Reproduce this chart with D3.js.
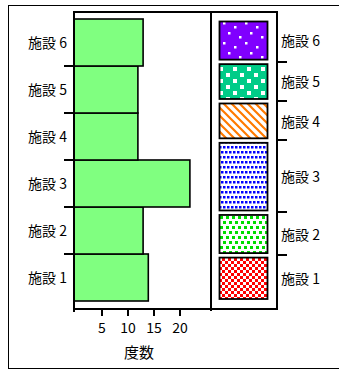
<!DOCTYPE html>
<html>
<head>
<meta charset="utf-8">
<script src="https://cdn.jsdelivr.net/npm/d3@7"></script>
<style>
  html, body { margin: 0; padding: 0; background: #fff; }
  svg { display: block; }
  text { font-family: "Liberation Sans Narrow", "Noto Sans CJK JP", sans-serif; font-size: 14px; fill: #000; }
</style>
</head>
<body>
<svg id="chart" width="339" height="371"></svg>
<script>
// Facility counts (bottom to top)
const categories = ["施設 1", "施設 2", "施設 3", "施設 4", "施設 5", "施設 6"];
const counts = [14, 13, 22, 12, 12, 13];
const xTicks = [5, 10, 15, 20];
const xTitle = "度数";

const svg = d3.select("#chart");

// Layout
const plot = { left: 74, top: 12, right: 211, bottom: 309 };
const legend = { left: 211, right: 277 };
const barTop = 19, barBottom = 301;

// Fill patterns for the facility key
const defs = svg.append("defs");
function pattern(id, w, h, bg, draw) {
  const p = defs.append("pattern").attr("id", id)
    .attr("patternUnits", "userSpaceOnUse").attr("width", w).attr("height", h);
  p.append("rect").attr("width", w).attr("height", h).attr("fill", bg);
  draw(p);
}
const sq = (p, x, y, s, c) => p.append("rect").attr("x", x).attr("y", y).attr("width", s).attr("height", s).attr("fill", c);

pattern("p1", 6, 6, "#fff", p => { sq(p, 0, 0, 3, "#ff0000"); sq(p, 3, 3, 3, "#ff0000"); });
pattern("p2", 6, 10, "#fff", p => { sq(p, 1, 1, 3, "#00dd00"); sq(p, 4, 6, 3, "#00dd00"); sq(p, -2, 6, 3, "#00dd00"); });
pattern("p3", 8, 10, "#fff", p => {
  sq(p, 1, 1, 2.5, "#0000ff"); sq(p, 5, 1, 2.5, "#0000ff"); sq(p, 3, 6, 2.5, "#0000ff"); sq(p, 7, 6, 2.5, "#0000ff"); sq(p, -1, 6, 2.5, "#0000ff");
});
pattern("p4", 8, 8, "#fff", p => {
  p.append("path").attr("d", "M-1,-1 L9,9 M-5,3 L1,9 M3,-5 L9,1")
    .attr("stroke", "#ff7a00").attr("stroke-width", 2.2);
});
pattern("p5", 14, 12, "#00cc88", p => { sq(p, 2, 1, 4, "#fff"); sq(p, 9, 7, 4, "#fff"); });
pattern("p6", 22, 20, "#8000ff", p => {
  sq(p, 3, 2, 2.5, "#fff"); sq(p, 14, 6, 2.5, "#fff"); sq(p, 8, 12, 2.5, "#fff"); sq(p, 19, 16, 2.5, "#fff");
});
const patIds = ["p1", "p2", "p3", "p4", "p5", "p6"];

// Scales
const x = d3.scaleLinear().domain([0, 26]).range([75.5, 210.7]);
const y = d3.scaleBand().domain(categories.slice().reverse()).range([barTop, barBottom]).paddingInner(0).paddingOuter(0);
const total = d3.sum(counts);
const yKey = d3.scaleLinear().domain([0, total]).range([barBottom, barTop]);
const cum = d3.cumsum(counts);
const segs = categories.map((c, i) => ({ c, lo: i === 0 ? 0 : cum[i - 1], hi: cum[i], p: patIds[i] }));

// Outer frame
const g0 = svg.append("g").attr("shape-rendering", "crispEdges").attr("stroke", "#000").attr("fill", "none");
g0.append("path").attr("d", "M339,5.5 H8.5 V368.5 H339").attr("stroke-width", 1);

// Bars
svg.append("g").selectAll("rect").data(categories).join("rect")
  .attr("x", plot.left)
  .attr("y", d => y(d))
  .attr("width", (d, i) => x(counts[i]) - plot.left)
  .attr("height", y.bandwidth())
  .attr("fill", "#80ff80").attr("stroke", "#000").attr("stroke-width", 1.6);

// Panel borders
const g = svg.append("g").attr("shape-rendering", "crispEdges").attr("stroke", "#000").attr("fill", "none").attr("stroke-width", 1.3);
g.append("path").attr("d", `M${plot.left},${plot.bottom + 3} V${plot.top} H${legend.right} V${plot.bottom} H${plot.left}`);
g.append("line").attr("x1", legend.left).attr("x2", legend.left).attr("y1", plot.top).attr("y2", plot.bottom + 2);

// Category ticks on the left axis, at bar boundaries
const bounds = categories.slice(0, -1).map(c => y(c));
g.selectAll(".lt").data(bounds).join("line")
  .attr("x1", plot.left - 10).attr("x2", plot.left).attr("y1", d => d).attr("y2", d => d);

// Category labels, left
svg.append("g").selectAll("text").data(categories).join("text")
  .attr("x", 67).attr("y", d => y(d) + y.bandwidth() / 2 + 5)
  .attr("text-anchor", "end").text(d => d);

// Count axis
const xAxis = svg.append("g").attr("transform", `translate(0,${plot.bottom})`)
  .call(d3.axisBottom(x).tickValues(xTicks).tickSize(7).tickSizeOuter(0).tickFormat(d3.format("d")));
xAxis.select(".domain").remove();
xAxis.selectAll("line").attr("stroke-width", 1.3).attr("shape-rendering", "crispEdges");
xAxis.selectAll("text").attr("font-size", 14).attr("dy", null).attr("y", 24)
  .style("font-family", "'Liberation Sans Narrow', 'Noto Sans CJK JP', sans-serif");

svg.append("text").attr("x", 139).attr("y", 358).attr("text-anchor", "middle")
  .attr("font-size", 15).style("font-size", "15px").text(xTitle);

// Proportional key
svg.append("g").selectAll("rect").data(segs).join("rect")
  .attr("x", 219.5).attr("width", 48)
  .attr("y", d => yKey(d.hi) + 2.5)
  .attr("height", d => yKey(d.lo) - yKey(d.hi) - 4.5)
  .attr("fill", d => `url(#${d.p})`)
  .attr("stroke", "#000").attr("stroke-width", 1.8);

g.selectAll(".rt").data(segs.slice(0, -1)).join("line")
  .attr("x1", legend.right).attr("x2", legend.right + 10)
  .attr("y1", d => Math.round(yKey(d.hi))).attr("y2", d => Math.round(yKey(d.hi)));

svg.append("g").selectAll("text").data(segs).join("text")
  .attr("x", 281).attr("y", d => (yKey(d.lo) + yKey(d.hi)) / 2 + 6)
  .text(d => d.c);
</script>
</body>
</html>
